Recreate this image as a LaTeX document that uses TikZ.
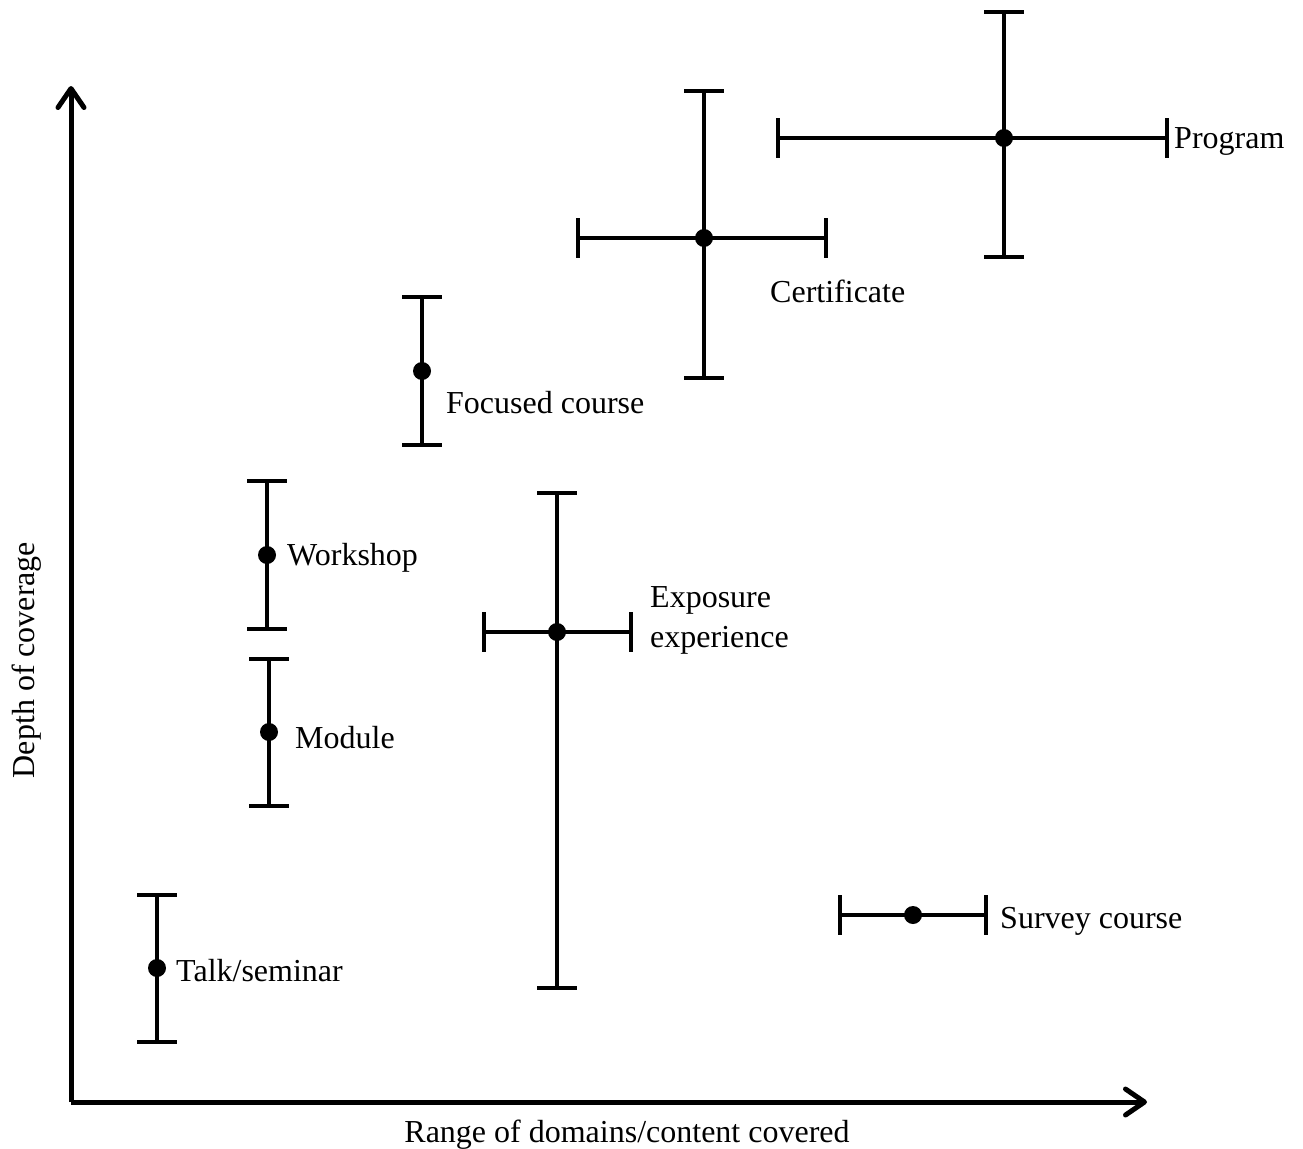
\documentclass[tikz,border=0pt]{standalone}
\usepackage{fontspec}
\setmainfont{Liberation Serif}
\usetikzlibrary{arrows.meta}
\newcommand\errV[3]{\draw[bar] (#1,#2) -- (#1,#3); \draw[bar] (#1-20,#2) -- (#1+20,#2); \draw[bar] (#1-20,#3) -- (#1+20,#3);}
\newcommand\errH[3]{\draw[bar] (#2,#1) -- (#3,#1); \draw[bar] (#2,#1-20) -- (#2,#1+20); \draw[bar] (#3,#1-20) -- (#3,#1+20);}
\begin{document}
\begin{tikzpicture}[x=1pt,y=-1pt,
  bar/.style={line width=4.5pt},
  axis/.style={line width=5pt,-{Straight Barb[length=19pt,width=26pt,round]}},
  dot/.style={circle,fill=black,inner sep=0pt,minimum size=18pt},
  lbl/.style={font=\fontsize{32}{40}\selectfont,inner sep=0pt,anchor=west,align=left}]
\useasboundingbox (0,0) rectangle (1303,1148);
% axes
\coordinate (O) at (71,1102);
\coordinate (Ytip) at (71,86);
\coordinate (Xtip) at (1147,1102);
\draw[axis] (O) -- (Ytip);
\draw[axis] (O) -- (Xtip);
\node[font=\fontsize{32}{40}\selectfont] (xl) at (627,1135) {Range of domains/content covered};
\node[font=\fontsize{32}{40}\selectfont,rotate=90] (yl) at (27,660) {Depth of coverage};
% Program
\errV{1004}{12}{257}
\errH{138}{778}{1167}
\node[dot] (program) at (1004,138) {};
\node[lbl] (programl) at (1174,141) {Program};
% Certificate
\errV{704}{91}{378}
\errH{238}{578}{826}
\node[dot] (cert) at (704,238) {};
\node[lbl] (certl) at (770,291) {Certificate};
% Focused course
\errV{422}{297}{445}
\node[dot] (focused) at (422,371) {};
\node[lbl] (focusedl) at (446,403) {Focused course};
% Workshop
\errV{267}{481}{629}
\node[dot] (workshop) at (267,555) {};
\node[lbl] (workshopl) at (287,558) {Workshop};
% Module
\errV{269}{659}{806}
\node[dot] (module) at (269,732) {};
\node[lbl] (modulel) at (295,738) {Module};
% Talk/seminar
\errV{157}{895}{1042}
\node[dot] (talk) at (157,968) {};
\node[lbl] (talkl) at (176,971) {Talk/seminar};
% Exposure experience
\errV{557}{493}{988}
\errH{632}{484}{631}
\node[dot] (exposure) at (557,632) {};
\node[lbl] (exposurel) at (650,620) {Exposure\\experience};
% Survey course
\errH{915}{840}{986}
\node[dot] (survey) at (913,915) {};
\node[lbl] (surveyl) at (1000,921) {Survey course};
\end{tikzpicture}
\end{document}
